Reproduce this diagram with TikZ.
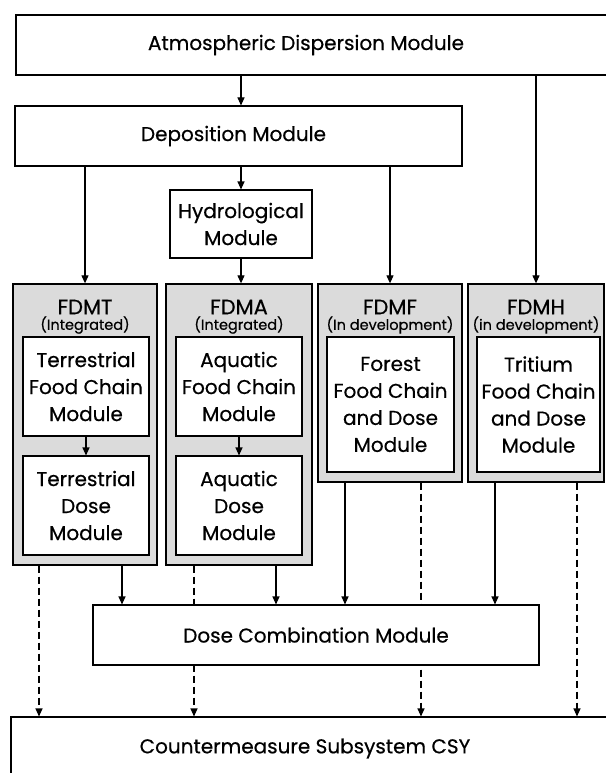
\documentclass[tikz,border=0pt]{standalone}
\usepackage{fontspec}
\setmainfont{Poppins}[FakeBold=0.5]
\usetikzlibrary{arrows.meta}
\pgfdeclarelayer{behind}
\pgfsetlayers{behind,main}

\begin{document}
\begin{tikzpicture}[x=1pt,y=-1pt,
  box/.style={draw, line width=1.1pt, fill=white, inner sep=0pt, align=center,
              font=\fontsize{20}{27}\selectfont},
  group/.style={draw, line width=1.3pt, fill=black!14, inner sep=0pt},
  title/.style={inner sep=0pt, font=\fontsize{21}{24}\selectfont},
  subtitle/.style={inner sep=0pt, font=\fontsize{14.5}{16}\selectfont},
  arr/.style={line width=1.1pt, -{Triangle[length=8pt,width=7pt]}},
  darr/.style={arr, dash pattern=on 7pt off 4pt}]

\useasboundingbox (0,0) rectangle (605,773);
\begin{pgfonlayer}{behind}
\fill[white] (0,0) rectangle (605,773);
\end{pgfonlayer}

% top chain
\node[box, minimum width=594pt, minimum height=60pt] (atm) at (313,45)
  {Atmospheric Dispersion Module\hspace*{14pt}};
\node[box, minimum width=447pt, minimum height=60pt] (dep) at (238.5,136)
  {Deposition Module\hspace*{10pt}};
\node[box, minimum width=142pt, minimum height=68pt] (hyd) at (241,224)
  {Hydrological\\Module};

% food chain and dose model groups
\node[group, minimum width=144pt, minimum height=281pt] (fdmt) at (85,424.5) {};
\node[group, minimum width=146pt, minimum height=281pt] (fdma) at (239,424.5) {};
\node[group, minimum width=144pt, minimum height=198pt] (fdmf) at (390,383) {};
\node[group, minimum width=136pt, minimum height=198pt] (fdmh) at (536,383) {};

\node[title] (fdmt-t) at (85,307) {FDMT};
\node[subtitle] (fdmt-s) at (85,325) {(Integrated)};
\node[title] (fdma-t) at (239,307) {FDMA};
\node[subtitle] (fdma-s) at (239,325) {(Integrated)};
\node[title] (fdmf-t) at (390,307) {FDMF};
\node[subtitle] (fdmf-s) at (390,325) {(In development)};
\node[title] (fdmh-t) at (536,307) {FDMH};
\node[subtitle] (fdmh-s) at (536,325) {(in development)};

\node[box, minimum width=126pt, minimum height=99pt] (tfc) at (86,386.5)
  {Terrestrial\\Food Chain\\Module};
\node[box, minimum width=126pt, minimum height=99pt] (tdm) at (86,505.5)
  {Terrestrial\\Dose\\Module};
\node[box, minimum width=126pt, minimum height=99pt] (afc) at (239,386.5)
  {Aquatic\\Food Chain\\Module};
\node[box, minimum width=126pt, minimum height=99pt] (adm) at (239,505.5)
  {Aquatic\\Dose\\Module};
\node[box, minimum width=127pt, minimum height=135pt] (ffc) at (390.5,404.5)
  {Forest\\Food Chain\\and Dose\\Module};
\node[box, minimum width=123pt, minimum height=135pt] (hfc) at (538.5,404.5)
  {Tritium\\Food Chain\\and Dose\\Module};

% lower chain
\node[box, minimum width=446pt, minimum height=60pt] (dcm) at (316,635)
  {Dose Combination Module};
\node[box, minimum width=601pt, minimum height=63pt] (csy) at (311.5,748.5)
  {Countermeasure Subsystem CSY\hspace*{13pt}};

% flows from the top
\draw[arr] (atm.south -| hyd.north) -- (hyd.north |- dep.north);
\draw[arr] (dep.south -| hyd.north) -- (hyd.north);
\draw[arr] (hyd.south) -- (hyd.south |- fdma.north);
\draw[arr] (dep.south -| fdmt.north) -- (fdmt.north);
\draw[arr] (dep.south -| fdmf.north) -- (fdmf.north);
\draw[arr] (atm.south -| fdmh.north) -- (fdmh.north);

% inside the integrated groups
\draw[arr] (tfc.south) -- (tdm.north);
\draw[arr] (afc.south) -- (adm.north);

% into the dose combination
\draw[arr] ([xshift=37pt]fdmt.south) -- ([xshift=37pt]fdmt.south |- dcm.north);
\draw[arr] ([xshift=37pt]fdma.south) -- ([xshift=37pt]fdma.south |- dcm.north);
\draw[arr] ([xshift=-45pt]fdmf.south) -- ([xshift=-45pt]fdmf.south |- dcm.north);
\draw[arr] ([xshift=-41pt]fdmh.south) -- ([xshift=-41pt]fdmh.south |- dcm.north);

% direct results to the countermeasure subsystem
\draw[darr] ([xshift=-46pt]fdmt.south) -- ([xshift=-46pt]fdmt.south |- csy.north);
\draw[darr] ([xshift=41pt]fdmh.south) -- ([xshift=41pt]fdmh.south |- csy.north);
% these two pass behind the dose combination box
\begin{pgfonlayer}{behind}
\draw[darr] ([xshift=-45pt]fdma.south) -- ([xshift=-45pt]fdma.south |- csy.north);
\draw[darr] ([xshift=31pt]fdmf.south) -- ([xshift=31pt]fdmf.south |- csy.north);
\end{pgfonlayer}
\end{tikzpicture}
\end{document}
